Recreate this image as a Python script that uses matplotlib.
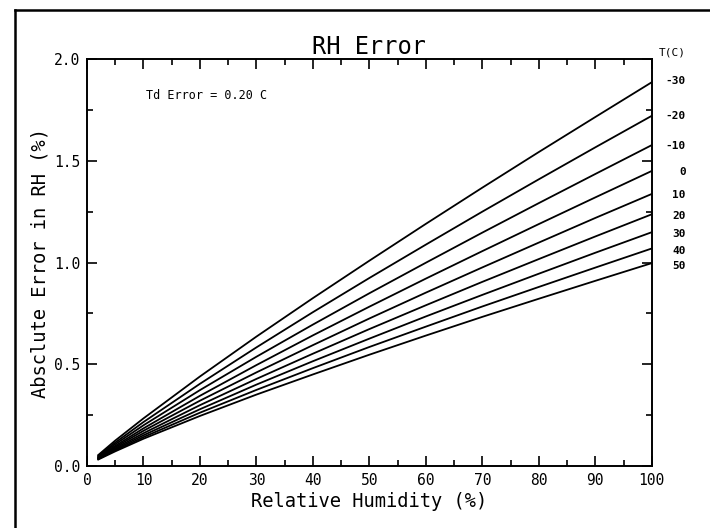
import numpy as np
import matplotlib.pyplot as plt
from matplotlib.lines import Line2D
from matplotlib.ticker import MultipleLocator

# relative humidity (%) where the curves were read
rh = [2, 5, 10, 20, 30, 40, 50, 60, 70, 80, 90, 100]

# absolute RH error (%) for each air temperature, Td error = 0.20 C
err_m30 = [0.054, 0.125, 0.234, 0.440, 0.636, 0.825, 1.009, 1.190, 1.368, 1.543, 1.715, 1.886]
err_m20 = [0.050, 0.115, 0.216, 0.404, 0.583, 0.756, 0.924, 1.088, 1.250, 1.409, 1.566, 1.721]
err_m10 = [0.046, 0.107, 0.200, 0.373, 0.537, 0.695, 0.849, 0.999, 1.147, 1.292, 1.435, 1.577]
err_0 = [0.043, 0.099, 0.185, 0.345, 0.496, 0.642, 0.783, 0.921, 1.056, 1.189, 1.320, 1.450]
err_10 = [0.041, 0.093, 0.173, 0.321, 0.460, 0.594, 0.725, 0.852, 0.976, 1.098, 1.219, 1.337]
err_20 = [0.038, 0.087, 0.161, 0.299, 0.428, 0.552, 0.673, 0.790, 0.905, 1.017, 1.128, 1.237]
err_30 = [0.036, 0.082, 0.151, 0.279, 0.400, 0.515, 0.626, 0.735, 0.841, 0.945, 1.048, 1.149]
err_40 = [0.034, 0.077, 0.142, 0.262, 0.374, 0.481, 0.585, 0.685, 0.784, 0.880, 0.975, 1.069]
err_50 = [0.032, 0.072, 0.134, 0.246, 0.351, 0.450, 0.547, 0.641, 0.733, 0.822, 0.910, 0.997]

curves = [err_m30, err_m20, err_m10, err_0, err_10, err_20, err_30, err_40, err_50]
temp_labels = ['-30', '-20', '-10', '0', '10', '20', '30', '40', '50']
# label heights on the right side (axis units)
label_y = [1.89, 1.72, 1.575, 1.445, 1.33, 1.23, 1.14, 1.055, 0.985]

font = 'DejaVu Sans Mono'

fig = plt.figure(figsize=(7.1, 5.28), dpi=100)
ax = fig.add_axes([0.1225, 0.1174, 0.7955, 0.7708])

for y in curves:
    ax.plot(rh, y, color='black', lw=1.3)

ax.set_xlim(0, 100)
ax.set_ylim(0, 2.0)
ax.xaxis.set_major_locator(MultipleLocator(10))
ax.xaxis.set_minor_locator(MultipleLocator(5))
ax.yaxis.set_major_locator(MultipleLocator(0.5))
ax.yaxis.set_minor_locator(MultipleLocator(0.25))
ax.tick_params(which='both', direction='in', top=True, right=True, width=1.2, colors='black')
ax.tick_params(which='major', length=7, labelsize=10.5, pad=5)
ax.tick_params(which='minor', length=4)
ax.set_yticks([0, 0.5, 1.0, 1.5, 2.0])
ax.set_yticklabels(['0.0', '0.5', '1.0', '1.5', '2.0'], family=font)
ax.set_xticks(range(0, 101, 10))
ax.set_xticklabels([str(v) for v in range(0, 101, 10)], family=font)
for s in ax.spines.values():
    s.set_linewidth(1.4)

ax.set_title('RH Error', family=font, fontsize=17, pad=3)
ax.set_xlabel('Relative Humidity (%)', family=font, fontsize=13.5, labelpad=3)
ax.set_ylabel('Absclute Error in RH (%)', family=font, fontsize=13.5, labelpad=3)

ax.text(10.5, 1.82, 'Td Error = 0.20 C', family=font, fontsize=8.5, va='center')

ax.text(106, 2.03, 'T(C)', family=font, fontsize=8, ha='right', va='center', clip_on=False)
for lab, yy in zip(temp_labels, label_y):
    ax.text(106, yy, lab, family=font, fontsize=8, fontweight='bold', ha='right', va='center', clip_on=False)

# outer frame of the sheet
fig.add_artist(Line2D([15 / 710, 15 / 710], [0, 1 - 10 / 528], transform=fig.transFigure, color='black', lw=1.8))
fig.add_artist(Line2D([15 / 710, 1], [1 - 10 / 528, 1 - 10 / 528], transform=fig.transFigure, color='black', lw=1.8))

fig.savefig('out.png', dpi=100)
